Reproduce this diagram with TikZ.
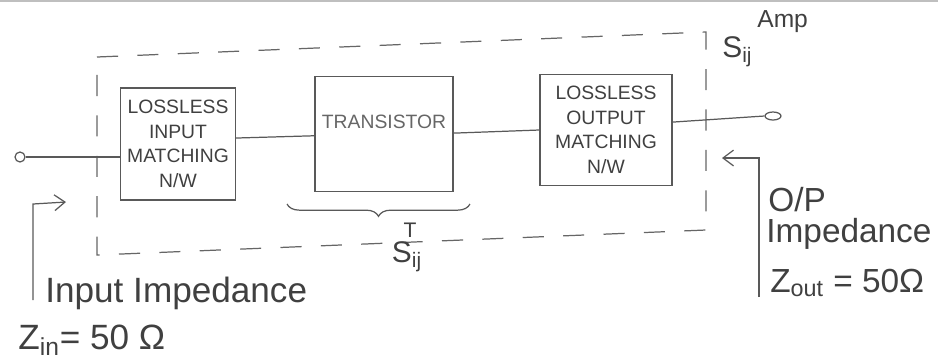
\documentclass[tikz,border=0pt]{standalone}
\usepackage{fontspec}
\setmainfont{Liberation Sans}
\usetikzlibrary{arrows.meta,decorations.pathreplacing,shapes.geometric}
\begin{document}
\begin{tikzpicture}[x=0.02cm,y=-0.02cm,
  ink/.style={draw=black!65, line width=0.7pt},
  blocktext/.style={ink, align=center, text=black!75, font=\fontsize{11}{14}\selectfont, inner sep=0pt},
  hand/.style={text=black!75, font=\fontsize{17}{20}\selectfont, inner sep=0pt},
  big/.style={hand, font=\fontsize{19}{22}\selectfont},
  bigger/.style={hand, font=\fontsize{20}{23}\selectfont},
  dashbox/.style={draw=black!60, line width=0.7pt, dash pattern=on 12pt off 11pt},
  term/.style={ink, inner sep=0pt}]
\useasboundingbox (0,0) rectangle (938,360);
\draw[black!25, line width=0.6pt] (0,1) -- (938,1);

% enclosure
\draw[dashbox] (97,57) -- (706,32) -- (706,230) -- (97,255) -- cycle;

% terminals
\node[term, circle, minimum size=0.2cm] (in) at (20,157) {};
\node[term, ellipse, minimum width=0.32cm, minimum height=0.16cm] (out) at (773,116) {};

% blocks
\node[blocktext, minimum width=2.3cm, minimum height=2.24cm] (ibox) at (178,144)
  {LOSSLESS\\INPUT\\MATCHING\\N/W};
\node[ink, minimum width=2.76cm, minimum height=2.3cm] (tr) at (384,134) {};
\node[text=black!60, font=\fontsize{11}{13}\selectfont, inner sep=0pt] (trtext) at (384,122) {TRANSISTOR};
\node[blocktext, minimum width=2.64cm, minimum height=2.22cm] (obox) at (606,130)
  {LOSSLESS\\OUTPUT\\MATCHING\\N/W};

% connections
\draw[ink] (in.east) -- (in.east -| ibox.west);
\draw[ink] ([yshift=3.4pt]ibox.east) -- ([yshift=-1pt]tr.west);
\draw[ink] ([yshift=0.5pt]tr.east) -- (obox.west);
\draw[ink] ([yshift=4.5pt]obox.east) -- (out.west);

% S-parameter labels
\node[hand, anchor=west] (samp) at (722,52) {S\textsubscript{ij}};
\node[hand, font=\fontsize{14}{16}\selectfont, anchor=west] (amp) at (757,22) {Amp};
\draw[ink, decorate, decoration={brace, mirror, amplitude=7pt}] (287,204) -- (470,204);
\node[hand, font=\fontsize{12}{14}\selectfont] (tsup) at (410,230) {T};
\node[hand] (strans) at (407,257) {S\textsubscript{ij}};

% input impedance
\coordinate (ia) at (33,300);
\coordinate (ib) at (33,204);
\coordinate (ic) at (66,202);
\draw[ink, -{Straight Barb[length=6pt,width=9pt]}] (ia) -- (ib) -- (ic);
\node[bigger, anchor=west] (inimp) at (45,293) {Input Impedance};
\node[bigger, anchor=west] (zin) at (18,340) {Z\textsubscript{in}= 50 Ω};

% output impedance
\coordinate (oa) at (759,297);
\coordinate (ob) at (759,158);
\coordinate (oc) at (722,158);
\draw[ink, -{Straight Barb[length=6pt,width=9pt]}] (oa) -- (ob) -- (oc);
\node[big, anchor=west] (op) at (768,200) {O/P};
\node[big, anchor=west] (outimp) at (766,234) {Impedance};
\node[big, anchor=west] (zout) at (770,283) {Z\textsubscript{out} = 50Ω};
\end{tikzpicture}
\end{document}
